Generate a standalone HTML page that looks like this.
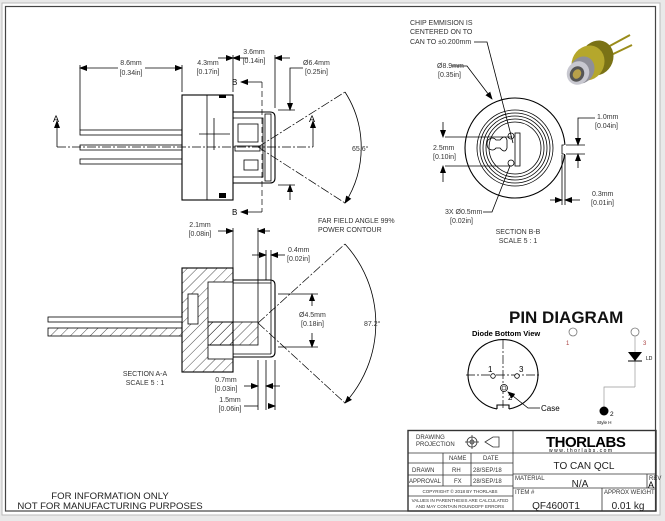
<!DOCTYPE html>
<html><head><meta charset="utf-8"><style>
html,body{margin:0;padding:0;background:#e9e9e9;}
svg{display:block;font-family:"Liberation Sans",sans-serif;}
.t{font-size:7px;fill:#333;}
.d{stroke:#000;stroke-width:0.8;fill:none;}
.m{stroke:#000;stroke-width:1.1;fill:none;}
.c{stroke:#000;stroke-width:0.7;fill:none;stroke-dasharray:9 2 2 2;}
</style></head><body>
<svg width="665" height="521" viewBox="0 0 665 521" xmlns="http://www.w3.org/2000/svg">
<defs>
<marker id="ar" markerWidth="8" markerHeight="6" refX="7" refY="3" orient="auto" markerUnits="userSpaceOnUse"><path d="M0,0 L8,3 L0,6 z" fill="#000"/></marker>
<pattern id="h" width="7" height="7" patternUnits="userSpaceOnUse" patternTransform="rotate(45)"><line x1="0" y1="0" x2="0" y2="7" stroke="#000" stroke-width="0.7"/></pattern>
</defs>
<rect x="2" y="3" width="658" height="512" fill="#fff" stroke="#bbb"/>
<rect x="5.5" y="6.5" width="650" height="504.5" fill="none" stroke="#444" stroke-width="1.2"/>

<!-- TOP SIDE VIEW -->
<g>
<line class="d" x1="80" y1="65" x2="80" y2="130"/>
<line class="d" x1="182" y1="65" x2="182" y2="92"/>
<line class="d" x1="118" y1="68" x2="80" y2="68" marker-end="url(#ar)"/>
<line class="d" x1="145" y1="68" x2="182" y2="68" marker-end="url(#ar)"/>
<text class="t" x="131" y="65" text-anchor="middle">8.6mm</text>
<text class="t" x="131" y="75" text-anchor="middle">[0.34in]</text>
<line class="d" x1="233" y1="55" x2="233" y2="92"/>
<line class="d" x1="218" y1="58" x2="233" y2="58" marker-end="url(#ar)"/>
<line class="d" x1="248" y1="58" x2="233" y2="58" marker-end="url(#ar)"/>
<text class="t" x="208" y="65" text-anchor="middle">4.3mm</text>
<text class="t" x="208" y="74" text-anchor="middle">[0.17in]</text>
<line class="d" x1="275" y1="55" x2="275" y2="108"/>
<line class="d" x1="290" y1="58" x2="275" y2="58" marker-end="url(#ar)"/>
<text class="t" x="254" y="54" text-anchor="middle">3.6mm</text>
<text class="t" x="254" y="63" text-anchor="middle">[0.14in]</text>
<line class="d" x1="278" y1="110" x2="295" y2="110"/>
<line class="d" x1="278" y1="185" x2="295" y2="185"/>
<polyline class="d" points="303,68 290,68 290,110" marker-end="url(#ar)"/>
<line class="d" x1="290" y1="200" x2="290" y2="185" marker-end="url(#ar)"/>
<text class="t" x="303" y="65">Ø6.4mm</text>
<text class="t" x="305" y="74">[0.25in]</text>
<!-- body -->
<rect class="m" x="182" y="95" width="51" height="105"/>
<line class="d" x1="207" y1="95" x2="207" y2="200"/>
<rect x="219" y="95" width="7" height="3" fill="#000"/>
<rect x="219" y="193" width="7" height="5" fill="#000"/>
<line class="d" x1="199" y1="134" x2="230" y2="134"/>
<line class="d" x1="214" y1="118" x2="214" y2="150"/>
<path class="m" d="M233,112 H270 Q275,112 275,117 V178 Q275,183 270,183 H233"/>
<rect class="d" x="233" y="118" width="30" height="59"/>
<rect class="d" x="238" y="124" width="20" height="18"/>
<rect class="d" x="235" y="146" width="25" height="5"/>
<rect class="d" x="244" y="160" width="14" height="10"/>
<rect class="d" x="265" y="114" width="6" height="67"/>
<!-- pins -->
<rect class="d" x="80" y="130" width="102" height="5"/>
<rect class="d" x="80" y="145" width="102" height="5"/>
<rect class="d" x="80" y="159" width="102" height="5"/>
<line class="c" x1="57" y1="147" x2="313" y2="147"/>
<polyline class="d" points="57,147 57,128"/>
<path d="M57,120 l-3,8 h6z" fill="#000"/>
<text x="53" y="122" style="font-size:9px">A</text>
<polyline class="d" points="313,147 313,128"/>
<path d="M313,120 l-3,8 h6z" fill="#000"/>
<text x="309" y="122" style="font-size:9px">A</text>
<line x1="262" y1="82" x2="262" y2="212" stroke="#000" stroke-width="0.7" stroke-dasharray="6 3"/>
<polyline class="d" points="262,82 241,82" marker-end="url(#ar)"/>
<polyline class="d" points="262,212 241,212" marker-end="url(#ar)"/>
<text x="232" y="85" style="font-size:8px">B</text>
<text x="232" y="215" style="font-size:8px">B</text>
<line x1="258" y1="147" x2="345" y2="92" stroke="#000" stroke-width="0.7" stroke-dasharray="9 2 2 2"/>
<line x1="258" y1="147" x2="345" y2="203" stroke="#000" stroke-width="0.7" stroke-dasharray="9 2 2 2"/>
<path class="d" d="M345,92 A103,103 0 0 1 345,203" marker-end="url(#ar)"/>
<text class="t" x="352" y="151">65.6°</text>
<text class="t" x="318" y="223">FAR FIELD ANGLE 99%</text>
<text class="t" x="318" y="232">POWER CONTOUR</text>
</g>

<!-- SECTION A-A -->
<g>
<rect x="182" y="268" width="51" height="104" fill="url(#h)" stroke="#000" stroke-width="1.1"/>
<rect x="188" y="294" width="10" height="30" fill="#fff" stroke="#000" stroke-width="0.8"/>
<rect x="208" y="282" width="25" height="40" fill="#fff" stroke="#000" stroke-width="0.8"/>
<rect x="208" y="345" width="25" height="14" fill="#fff" stroke="#000" stroke-width="0.8"/>
<rect x="208" y="322" width="50" height="23" fill="url(#h)" stroke="#000" stroke-width="0.8"/>
<path class="m" d="M233,280 H270 Q275,280 275,285 V352 Q275,357 270,357 H233"/>
<line class="d" x1="233" y1="283" x2="271" y2="283"/>
<line class="d" x1="233" y1="354" x2="271" y2="354"/>
<line class="d" x1="271" y1="283" x2="271" y2="354"/>
<rect x="48" y="317" width="134" height="5" fill="#fff" stroke="#000" stroke-width="0.8"/>
<rect x="48" y="328" width="134" height="8" fill="url(#h)" stroke="#000" stroke-width="0.8"/>
<line class="d" x1="233" y1="228" x2="233" y2="268"/>
<line class="d" x1="258" y1="228" x2="258" y2="322"/>
<line class="d" x1="218" y1="231" x2="233" y2="231" marker-end="url(#ar)"/>
<line class="d" x1="270" y1="231" x2="258" y2="231" marker-end="url(#ar)"/>
<text class="t" x="200" y="227" text-anchor="middle">2.1mm</text>
<text class="t" x="200" y="236" text-anchor="middle">[0.08in]</text>
<line class="d" x1="266" y1="250" x2="266" y2="280"/>
<line class="d" x1="271" y1="250" x2="271" y2="283"/>
<line class="d" x1="252" y1="255" x2="266" y2="255" marker-end="url(#ar)"/>
<line class="d" x1="285" y1="255" x2="271" y2="255" marker-end="url(#ar)"/>
<text class="t" x="288" y="252">0.4mm</text>
<text class="t" x="287" y="261">[0.02in]</text>
<line class="d" x1="278" y1="294" x2="318" y2="294"/>
<line class="d" x1="278" y1="347" x2="318" y2="347"/>
<line class="d" x1="312" y1="306" x2="312" y2="294" marker-end="url(#ar)"/>
<line class="d" x1="312" y1="333" x2="312" y2="347" marker-end="url(#ar)"/>
<text class="t" x="299" y="317">Ø4.5mm</text>
<text class="t" x="301" y="326">[0.18in]</text>
<line x1="258" y1="323" x2="345" y2="244" stroke="#000" stroke-width="0.7" stroke-dasharray="9 2 2 2"/>
<line x1="258" y1="323" x2="345" y2="403" stroke="#000" stroke-width="0.7" stroke-dasharray="9 2 2 2"/>
<path class="d" d="M345,244 A118,118 0 0 1 345,403" marker-end="url(#ar)"/>
<text class="t" x="364" y="326">87.2°</text>
<text class="t" x="145" y="376" text-anchor="middle">SECTION A-A</text>
<text class="t" x="145" y="385" text-anchor="middle">SCALE 5 : 1</text>
<line class="d" x1="258" y1="360" x2="258" y2="410"/>
<line class="d" x1="266" y1="360" x2="266" y2="410"/>
<line class="d" x1="275" y1="360" x2="275" y2="410"/>
<line class="d" x1="244" y1="386" x2="258" y2="386" marker-end="url(#ar)"/>
<line class="d" x1="280" y1="386" x2="266" y2="386" marker-end="url(#ar)"/>
<line class="d" x1="244" y1="406" x2="258" y2="406"/>
<line class="d" x1="268" y1="406" x2="275" y2="406" marker-end="url(#ar)"/>
<text class="t" x="226" y="382" text-anchor="middle">0.7mm</text>
<text class="t" x="226" y="391" text-anchor="middle">[0.03in]</text>
<text class="t" x="230" y="402" text-anchor="middle">1.5mm</text>
<text class="t" x="230" y="411" text-anchor="middle">[0.06in]</text>
</g>

<!-- SECTION B-B -->
<g>
<circle class="m" cx="515" cy="148" r="50"/>
<circle class="d" cx="515" cy="148" r="38"/>
<circle class="d" cx="515" cy="148" r="35"/>
<circle class="d" cx="515" cy="148" r="32"/>
<circle class="d" cx="515" cy="148" r="29"/>
<circle class="d" cx="515" cy="148" r="26"/>
<rect x="560" y="145" width="6" height="9" fill="#fff"/>
<path class="d" d="M564,145 H562 V154 H564"/>
<path class="d" d="M488,140 q5,-4 8,0 h4 q5,-6 7,0 v8 q-2,6 -7,0 h-4 q-3,4 -8,0 q-2,-4 0,-8z"/>
<circle class="d" cx="511" cy="136" r="3"/>
<circle class="d" cx="511" cy="163" r="3"/>
<rect class="d" x="515" y="133" width="5" height="33"/>
<line class="d" x1="445" y1="137" x2="512" y2="137"/>
<line class="d" x1="445" y1="166" x2="512" y2="166"/>
<line class="d" x1="443" y1="122" x2="443" y2="137" marker-end="url(#ar)"/>
<line class="d" x1="443" y1="182" x2="443" y2="166" marker-end="url(#ar)"/>
<text class="t" x="433" y="150">2.5mm</text>
<text class="t" x="433" y="159">[0.10in]</text>
<text class="t" x="410" y="25">CHIP EMMISION IS</text>
<text class="t" x="410" y="34">CENTERED ON TO</text>
<text class="t" x="410" y="44">CAN TO ±0.200mm</text>
<polyline class="d" points="474,42 487,42 513,143"/>
<polyline class="d" points="452,66 467,66 492,99" marker-end="url(#ar)"/>
<text class="t" x="437" y="68">Ø8.9mm</text>
<text class="t" x="438" y="77">[0.35in]</text>
<text class="t" x="445" y="214">3X Ø0.5mm</text>
<text class="t" x="450" y="223">[0.02in]</text>
<polyline class="d" points="483,212 492,212 510,166"/>
<line class="d" x1="566" y1="145" x2="585" y2="145"/>
<line class="d" x1="566" y1="154" x2="585" y2="154"/>
<polyline class="d" points="595,118 578,118 578,145" marker-end="url(#ar)"/>
<line class="d" x1="578" y1="168" x2="578" y2="154" marker-end="url(#ar)"/>
<text class="t" x="597" y="119">1.0mm</text>
<text class="t" x="595" y="128">[0.04in]</text>
<line class="d" x1="562" y1="155" x2="562" y2="205"/>
<line class="d" x1="565" y1="155" x2="565" y2="205"/>
<line class="d" x1="550" y1="200" x2="562" y2="200" marker-end="url(#ar)"/>
<line class="d" x1="580" y1="200" x2="565" y2="200" marker-end="url(#ar)"/>
<text class="t" x="592" y="196">0.3mm</text>
<text class="t" x="591" y="205">[0.01in]</text>
<text class="t" x="518" y="234" text-anchor="middle">SECTION B-B</text>
<text class="t" x="518" y="243" text-anchor="middle">SCALE 5 : 1</text>
</g>

<!-- product image -->
<g>
<line x1="606" y1="48" x2="630" y2="35" stroke="#9a8c1a" stroke-width="2"/>
<line x1="609" y1="56" x2="632" y2="45" stroke="#9a8c1a" stroke-width="2"/>
<ellipse cx="597" cy="58" rx="16" ry="18" fill="#7a7216" transform="rotate(30 597 58)"/>
<ellipse cx="588" cy="63" rx="16" ry="18" fill="#b5a72c" transform="rotate(30 588 63)"/>
<ellipse cx="582" cy="70" rx="12" ry="14" fill="#8f8f98" transform="rotate(30 582 70)"/>
<ellipse cx="578" cy="73" rx="11" ry="12" fill="#c8c8d0" transform="rotate(30 578 73)"/>
<ellipse cx="577" cy="74" rx="7" ry="8" fill="#555" transform="rotate(30 577 74)"/>
<ellipse cx="577" cy="74" rx="4" ry="5" fill="#b8a04a" transform="rotate(30 577 74)"/>
</g>

<!-- PIN DIAGRAM -->
<g>
<text x="509" y="323" style="font-size:17px;font-weight:bold;fill:#111">PIN DIAGRAM</text>
<text x="472" y="336" style="font-size:7.5px;font-weight:bold">Diode Bottom View</text>
<path class="m" d="M497,409 A35,35 0 1 1 509,409"/>
<path class="m" d="M497,409 V405 H509 V409"/>
<line class="c" x1="503" y1="340" x2="503" y2="408"/>
<line class="c" x1="466" y1="375" x2="540" y2="375"/>
<circle cx="493" cy="376" r="2.3" fill="#fff" stroke="#000" stroke-width="0.8"/>
<circle cx="517" cy="376" r="2.3" fill="#fff" stroke="#000" stroke-width="0.8"/>
<circle cx="504" cy="388" r="3.5" fill="#fff" stroke="#000" stroke-width="0.8"/>
<circle cx="504" cy="388" r="2" fill="#fff" stroke="#000" stroke-width="0.6"/>
<text x="488" y="372" style="font-size:8px">1</text>
<text x="519" y="372" style="font-size:8px">3</text>
<text x="508" y="400" style="font-size:8px">2</text>
<polyline class="d" points="540,408 528,408 508,392" marker-end="url(#ar)"/>
<text x="541" y="411" style="font-size:8px">Case</text>
<circle cx="573" cy="332" r="4" fill="#fff" stroke="#777" stroke-width="0.8"/>
<text x="566" y="345" style="font-size:6px;fill:#a44">1</text>
<circle cx="635" cy="332" r="4" fill="#fff" stroke="#777" stroke-width="0.8"/>
<text x="643" y="345" style="font-size:6px;fill:#a44">3</text>
<line x1="635" y1="336" x2="635" y2="387" stroke="#999" stroke-width="0.7"/>
<polyline points="635,387 604,387 604,408" fill="none" stroke="#999" stroke-width="0.7"/>
<path d="M628,352 h14 l-7,9z" fill="#000"/>
<line x1="628" y1="361" x2="642" y2="361" stroke="#000"/>
<text x="646" y="360" style="font-size:5px">LD</text>
<circle cx="604" cy="411" r="4.5" fill="#000"/>
<text x="610" y="416" style="font-size:6.5px">2</text>
<text x="597" y="424" style="font-size:4.5px">Style H</text>
</g>

<text x="110" y="499" text-anchor="middle" style="font-size:9.6px;fill:#222">FOR INFORMATION ONLY</text>
<text x="110" y="509" text-anchor="middle" style="font-size:9.6px;fill:#222">NOT FOR MANUFACTURING PURPOSES</text>

<!-- TITLE BLOCK -->
<g stroke="#333" stroke-width="0.8" fill="none">
<rect x="408" y="430.5" width="248" height="80.5" stroke-width="1.4"/>
<line x1="513" y1="430.5" x2="513" y2="511"/>
<line x1="408" y1="453" x2="513" y2="453"/>
<line x1="408" y1="463" x2="513" y2="463"/>
<line x1="408" y1="475" x2="513" y2="475"/>
<line x1="408" y1="486" x2="513" y2="486"/>
<line x1="408" y1="496" x2="513" y2="496"/>
<line x1="443" y1="453" x2="443" y2="486"/>
<line x1="471" y1="453" x2="471" y2="486"/>
<line x1="513" y1="453" x2="656" y2="453"/>
<line x1="513" y1="474" x2="656" y2="474"/>
<line x1="513" y1="488" x2="656" y2="488"/>
<line x1="647" y1="474" x2="647" y2="488"/>
<line x1="602" y1="488" x2="602" y2="511"/>
<circle cx="472" cy="442" r="5"/><circle cx="472" cy="442" r="2"/>
<line x1="465" y1="442" x2="479" y2="442"/><line x1="472" y1="435" x2="472" y2="449"/>
<path d="M485,442 l8,-5 h6 v10 h-6 z"/>
</g>
<g style="font-size:6px;fill:#333">
<text x="416" y="439">DRAWING</text>
<text x="416" y="446">PROJECTION</text>
<text x="449" y="460">NAME</text>
<text x="483" y="460">DATE</text>
<text x="412" y="472">DRAWN</text>
<text x="452" y="472">RH</text>
<text x="473" y="472">28/SEP/18</text>
<text x="409" y="483">APPROVAL</text>
<text x="454" y="483">FX</text>
<text x="473" y="483">28/SEP/18</text>
<text x="460" y="493" text-anchor="middle" style="font-size:4.5px">COPYRIGHT © 2018 BY THORLABS</text>
<text x="460" y="502" text-anchor="middle" style="font-size:4.5px">VALUES IN PARENTHESIS ARE CALCULATED</text>
<text x="460" y="508" text-anchor="middle" style="font-size:4.5px">AND MAY CONTAIN ROUNDOFF ERRORS</text>
<text x="515" y="480">MATERIAL</text>
<text x="649" y="480" style="font-size:6px">REV</text>
<text x="515" y="494">ITEM #</text>
<text x="604" y="494">APPROX WEIGHT</text>
</g>
<text x="546" y="447" style="font-size:15px;font-weight:bold;letter-spacing:-0.5px">THORLABS</text>
<text x="549" y="452" style="font-size:5px;letter-spacing:1.5px">www.thorlabs.com</text>
<text x="584" y="469" text-anchor="middle" style="font-size:10px;fill:#222">TO CAN QCL</text>
<text x="580" y="487" text-anchor="middle" style="font-size:10px;fill:#222">N/A</text>
<text x="651" y="488" text-anchor="middle" style="font-size:9px">A</text>
<text x="556" y="509" text-anchor="middle" style="font-size:10px;fill:#222">QF4600T1</text>
<text x="628" y="509" text-anchor="middle" style="font-size:10px;fill:#222">0.01 kg</text>
</svg>
</body></html>
